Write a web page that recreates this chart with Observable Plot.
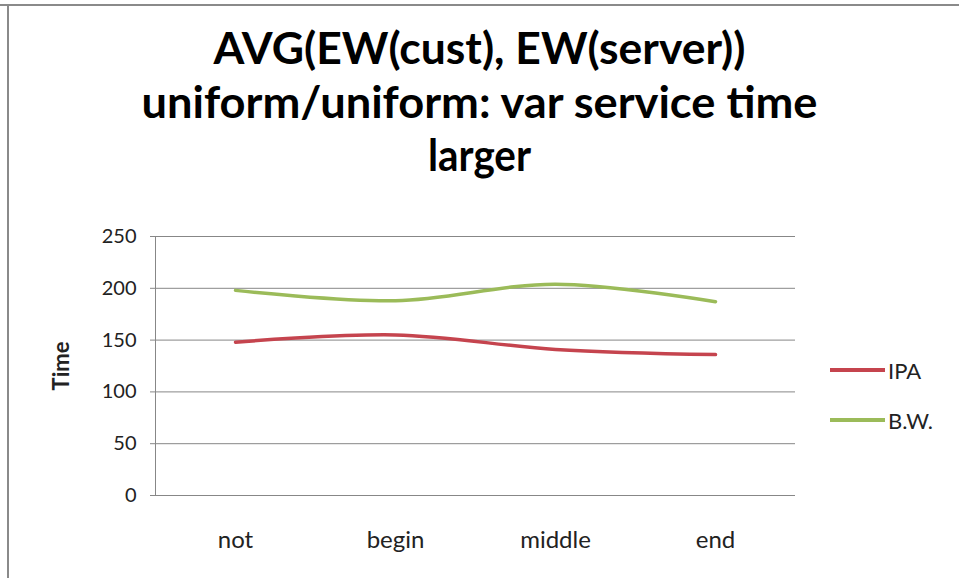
<!DOCTYPE html>
<html>
<head>
<meta charset="utf-8">
<script src="https://cdn.jsdelivr.net/npm/d3@7"></script>
<script src="https://cdn.jsdelivr.net/npm/@observablehq/plot@0.6"></script>
<style>
  html, body { margin: 0; padding: 0; background: #fff; }
  #chart {
    position: relative; width: 959px; height: 578px; overflow: hidden;
    font-family: Lato, "Open Sans", sans-serif; background: #fff;
  }
  #border-top { position: absolute; left: 0; top: 4px; width: 959px; height: 2px; background: #8a8a8a; }
  #border-left { position: absolute; left: 7px; top: 4px; width: 2px; height: 574px; background: #8a8a8a; }
  #title { position: absolute; left: 0; top: 0; }
  #plot { position: absolute; left: 0; top: 200px; }
  .legend { position: absolute; left: 830px; font-size: 22px; color: #222; }
  .legend span.sw { position: absolute; left: 0; width: 55px; height: 4px; top: 11px; }
  .legend span.lb { position: absolute; left: 58px; top: 0; white-space: nowrap; }
  #plot [aria-label="y-axis label"] text { font-weight: bold; font-size: 22px; }
  #plot [aria-label="x-axis tick label"] text { font-size: 24px; }
</style>
</head>
<body>
<div id="chart">
  <div id="border-top"></div>
  <div id="border-left"></div>
  <svg id="title" width="959" height="200"></svg>
  <div id="plot"></div>
</div>
<script>
// Categories on the x axis and the two series (average time)
const categories = ["not", "begin", "middle", "end"];
const seriesNames = ["IPA", "B.W."];
const ipaValues = [148, 155, 141, 136];
const bwValues = [198, 188, 204, 187];
const yTicks = [0, 50, 100, 150, 200, 250];
const titleLines = ["AVG(EW(cust), EW(server))", "uniform/uniform: var service time", "larger"];
const colors = ["#c5444e", "#9bbb59"];

// Long-format table for the line marks
const rows = [];
categories.forEach((c, i) => {
  rows.push({category: c, series: seriesNames[0], value: ipaValues[i]});
  rows.push({category: c, series: seriesNames[1], value: bwValues[i]});
});

// Title: three centered bold lines
const titleSvg = d3.select("#title");
const titleLayout = [
  {baseline: 64, width: 532},
  {baseline: 118, width: 676},
  {baseline: 171, width: 103}
];
titleLines.forEach((t, i) => {
  titleSvg.append("text")
    .attr("x", 479.5)
    .attr("y", titleLayout[i].baseline)
    .attr("text-anchor", "middle")
    .attr("font-family", "Lato, 'Open Sans', sans-serif")
    .attr("font-weight", "bold")
    .attr("font-size", 43)
    .attr("fill", "#000")
    .attr("textLength", titleLayout[i].width)
    .attr("lengthAdjust", "spacingAndGlyphs")
    .text(t);
});

const plot = Plot.plot({
  width: 959,
  height: 378,
  marginTop: 36,
  marginBottom: 83,
  marginLeft: 155,
  marginRight: 164,
  style: {fontFamily: "Lato, 'Open Sans', sans-serif", fontSize: "20px", color: "#222", background: "transparent"},
  x: {type: "point", domain: categories, padding: 0.5},
  y: {domain: [0, 250]},
  color: {domain: seriesNames, range: colors},
  marks: [
    Plot.ruleY(yTicks, {stroke: "#878787", strokeWidth: 1}),
    Plot.frame({anchor: "left", stroke: "#878787"}),
    Plot.axisY({ticks: yTicks, tickSize: 5, tickPadding: 14, stroke: "#878787", label: "Time", labelAnchor: "center", labelArrow: "none", labelOffset: 102, fill: "#222"}),
    Plot.axisX({tickSize: 0, tickPadding: 35, label: null, fill: "#222"}),
    Plot.line(rows, {x: "category", y: "value", z: "series", stroke: "series", strokeWidth: 3.5, curve: "catmull-rom"})
  ]
});
document.getElementById("plot").appendChild(plot);

// Legend at the right of the plot area
const legendTops = [357, 407];
seriesNames.forEach((name, i) => {
  const item = document.createElement("div");
  item.className = "legend";
  item.style.top = legendTops[i] + "px";
  item.innerHTML = `<span class="sw" style="background:${colors[i]}"></span><span class="lb">${name}</span>`;
  document.getElementById("chart").appendChild(item);
});
</script>
</body>
</html>
